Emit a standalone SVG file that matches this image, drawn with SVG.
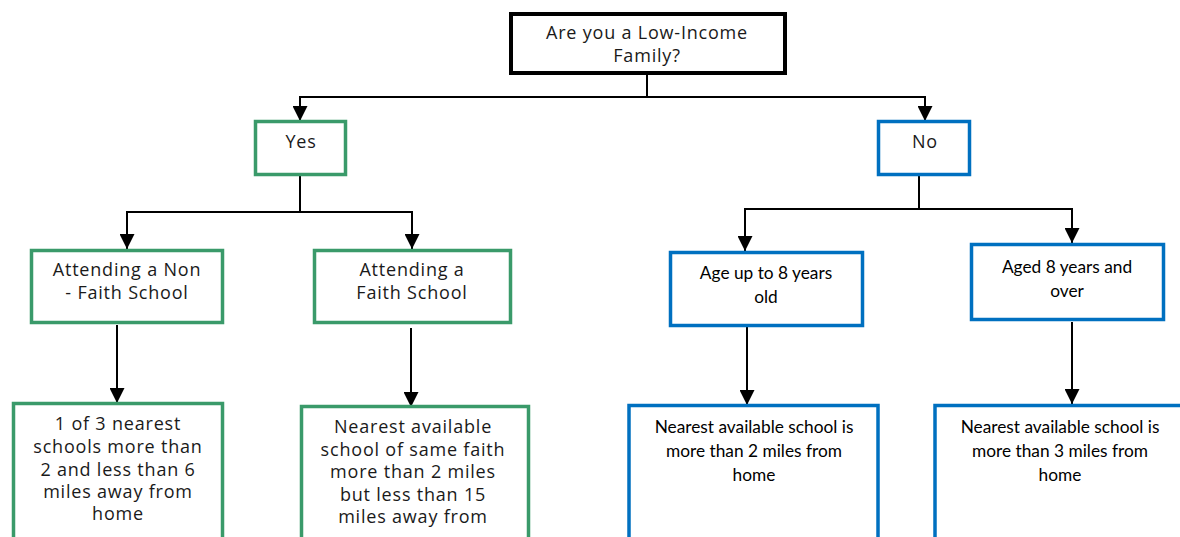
<svg xmlns="http://www.w3.org/2000/svg" width="1180" height="537" viewBox="0 0 1180 537">
<style>
.box{fill:#fff}
.blk{stroke:#000;stroke-width:4}
.grn{stroke:#3a9a6a;stroke-width:3.5}
.blu{stroke:#0070c0;stroke-width:3.5}
.t1{font-family:"Open Sans","Noto Sans",sans-serif;font-size:18px;letter-spacing:0.8px;fill:#1a1a1a;text-anchor:middle}
.t2{font-family:Lato,"Liberation Sans",sans-serif;font-size:17.3px;fill:#000;text-anchor:middle}
.c{fill:none;stroke:#000;stroke-width:2}
</style>
<defs>
<marker id="ah" viewBox="0 0 16 16" refX="16" refY="8" markerWidth="16" markerHeight="15" markerUnits="userSpaceOnUse" orient="auto">
<path d="M0,0 L16,8 L0,16 z" fill="#000"/>
</marker>
</defs>
<rect width="1180" height="537" fill="#fff"/>
<g id="connectors">
<path class="c" d="M647,74 V97 H300 V121" marker-end="url(#ah)"/>
<path class="c" d="M647,97 H925 V121" marker-end="url(#ah)"/>
<path class="c" d="M300,176 V212 H127 V249" marker-end="url(#ah)"/>
<path class="c" d="M300,212 H412 V249" marker-end="url(#ah)"/>
<path class="c" d="M117,325 V403" marker-end="url(#ah)"/>
<path class="c" d="M411,328 V407" marker-end="url(#ah)"/>
<path class="c" d="M919,176 V209 H745 V251" marker-end="url(#ah)"/>
<path class="c" d="M919,209 H1072 V243" marker-end="url(#ah)"/>
<path class="c" d="M747,327 V405" marker-end="url(#ah)"/>
<path class="c" d="M1072,322 V404" marker-end="url(#ah)"/>
</g>
<g id="root">
<rect class="box blk" x="511" y="14" width="274" height="59"/>
<text class="t1" x="647" y="39">Are you a Low-Income</text>
<text class="t1" x="647" y="62">Family?</text>
</g>
<g id="yes">
<rect class="box grn" x="255.5" y="121.5" width="90" height="53"/>
<text class="t1" x="301" y="148">Yes</text>
</g>
<g id="no">
<rect class="box blu" x="878.5" y="121.5" width="91" height="53"/>
<text class="t1" x="925" y="148">No</text>
</g>
<g id="nonfaith">
<rect class="box grn" x="31.5" y="250.5" width="191" height="72"/>
<text class="t1" x="127" y="276">Attending a Non</text>
<text class="t1" x="127" y="299">- Faith School</text>
</g>
<g id="faith">
<rect class="box grn" x="314.5" y="250.5" width="196" height="72"/>
<text class="t1" x="412" y="276">Attending a</text>
<text class="t1" x="412" y="299">Faith School</text>
</g>
<g id="nonfaith-rule">
<rect class="box grn" x="13.5" y="403.5" width="209" height="160"/>
<text class="t1" x="118" y="430">1 of 3 nearest</text>
<text class="t1" x="118" y="453">schools more than</text>
<text class="t1" x="118" y="476">2 and less than 6</text>
<text class="t1" x="118" y="498">miles away from</text>
<text class="t1" x="118" y="520">home</text>
</g>
<g id="faith-rule">
<rect class="box grn" x="301.5" y="406.5" width="227" height="160"/>
<text class="t1" x="413" y="433">Nearest available</text>
<text class="t1" x="413" y="456">school of same faith</text>
<text class="t1" x="413" y="478">more than 2 miles</text>
<text class="t1" x="413" y="501">but less than 15</text>
<text class="t1" x="413" y="523">miles away from</text>
</g>
<g id="age-under8">
<rect class="box blu" x="670.5" y="252.5" width="192" height="73"/>
<text class="t2" x="766" y="279">Age up to 8 years</text>
<text class="t2" x="766" y="303">old</text>
</g>
<g id="age-over8">
<rect class="box blu" x="971.5" y="244.5" width="192" height="75"/>
<text class="t2" x="1067" y="273">Aged 8 years and</text>
<text class="t2" x="1067" y="297">over</text>
</g>
<g id="under8-rule">
<rect class="box blu" x="629" y="405.5" width="249" height="160"/>
<text class="t2" x="754" y="433">Nearest available school is</text>
<text class="t2" x="754" y="457">more than 2 miles from</text>
<text class="t2" x="754" y="481">home</text>
</g>
<g id="over8-rule">
<rect class="box blu" x="935" y="405.5" width="270" height="160"/>
<text class="t2" x="1060" y="433">Nearest available school is</text>
<text class="t2" x="1060" y="457">more than 3 miles from</text>
<text class="t2" x="1060" y="481">home</text>
</g>
</svg>
